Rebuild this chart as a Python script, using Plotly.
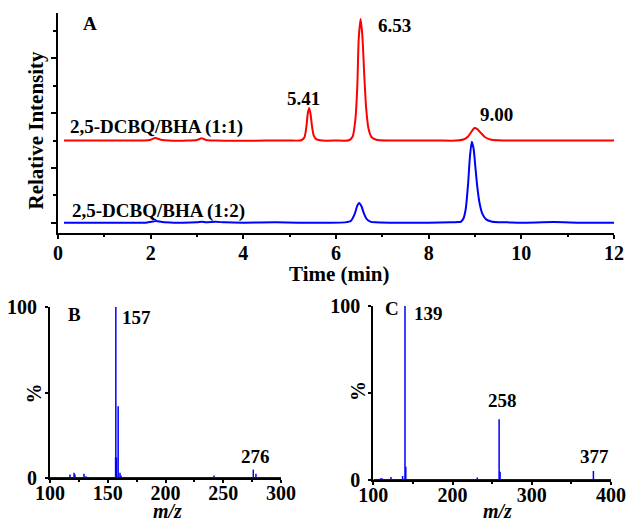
import plotly.graph_objects as go

# ---------------- Panel A: chromatograms ----------------
red_time = [0.13, 0.6, 1.2, 1.8, 1.98, 2.1, 2.22, 2.4, 2.8, 3.0, 3.1, 3.2, 3.4, 3.9, 4.5, 5.0,
            5.25, 5.32, 5.36, 5.39, 5.42, 5.45, 5.48, 5.52, 5.58, 5.7, 6.0, 6.28, 6.36, 6.42,
            6.46, 6.49, 6.53, 6.57, 6.61, 6.65, 6.7, 6.77, 6.87, 7.1, 7.6, 8.2, 8.6, 8.75,
            8.85, 8.93, 8.99, 9.05, 9.13, 9.22, 9.33, 9.5, 9.8, 10.5, 11.2, 12.0]
red_int = [0.0, 0.0, 0.0, 0.0, 0.02, 0.09, 0.03, 0.0, 0.0, 0.02, 0.08, 0.02, 0.0, -0.01, 0.0, 0.0,
           0.01, 0.12, 0.5, 0.98, 1.19, 0.98, 0.55, 0.18, 0.04, 0.0, 0.0, 0.01, 0.15, 0.8,
           2.0, 3.7, 4.44, 3.8, 2.4, 1.2, 0.45, 0.12, 0.03, 0.0, 0.0, 0.0, 0.0, 0.04,
           0.15, 0.34, 0.46, 0.42, 0.27, 0.12, 0.04, 0.01, 0.0, 0.0, 0.0, 0.0]
red_offset = 3.0

blue_time = [0.13, 1.0, 1.9, 2.05, 2.12, 2.25, 2.5, 3.0, 3.1, 3.2, 3.4, 3.6, 4.0, 4.7, 5.2, 5.8,
             6.2, 6.32, 6.4, 6.46, 6.5, 6.55, 6.6, 6.66, 6.74, 6.85, 7.2, 8.0, 8.5, 8.65, 8.7,
             8.75, 8.8, 8.85, 8.89, 8.93, 8.97, 9.01, 9.05, 9.1, 9.16, 9.24, 9.35, 9.5, 9.7,
             10.0, 10.7, 11.3, 12.0]
blue_int = [0.0, 0.0, 0.0, 0.04, 0.06, 0.02, 0.0, 0.01, 0.03, 0.01, 0.03, 0.01, 0.0, 0.01, 0.0, 0.0,
            0.01, 0.06, 0.3, 0.62, 0.72, 0.6, 0.35, 0.14, 0.04, 0.01, 0.0, 0.0, 0.01, 0.02, 0.04,
            0.15, 0.5, 1.4, 2.4, 2.96, 2.7, 2.0, 1.3, 0.7, 0.32, 0.12, 0.04, 0.015, 0.01,
            0.0, 0.02, 0.0, 0.0]

red_label = "2,5-DCBQ/BHA (1:1)"
blue_label = "2,5-DCBQ/BHA (1:2)"
peak_labels_A = ["5.41", "6.53", "9.00"]

# ---------------- Panel B: mass spectrum ----------------
mz_B = [117.3, 120.8, 121.6, 129.4, 131.2, 134.0, 139.0, 156.8, 157.0, 157.6, 159.0, 160.6,
        161.5, 242.0, 276.0, 278.3]
int_B = [2.0, 3.0, 2.0, 2.5, 1.0, 0.5, 0.3, 12.0, 100.0, 12.0, 42.0, 3.0,
         1.5, 1.4, 4.9, 2.5]
labels_B = ["157", "276"]

# ---------------- Panel C: mass spectrum ----------------
mz_C = [109.3, 111.0, 122.3, 128.6, 137.0, 140.0, 141.0, 173.6, 231.2, 258.8, 260.0, 274.6, 377.8]
int_C = [1.0, 1.0, 1.7, 0.5, 2.3, 100.0, 7.6, 0.5, 1.5, 34.8, 4.8, 0.5, 5.2]
labels_C = ["139", "258", "377"]

FONT = "Liberation Serif, Times New Roman, serif"
W, H = 629, 521


def px(x):
    return x / W


def py(y):
    return 1 - y / H


def sticks(mz, inten):
    xs, ys = [], []
    for m, v in zip(mz, inten):
        xs += [m, m, None]
        ys += [0, v, None]
    return xs, ys


fig = go.Figure()

fig.add_trace(go.Scatter(x=red_time, y=[v + red_offset for v in red_int], mode="lines",
                         line=dict(color="#ff0000", width=2, shape="spline", smoothing=0.6),
                         xaxis="x", yaxis="y", showlegend=False, name=red_label))
fig.add_trace(go.Scatter(x=blue_time, y=blue_int, mode="lines",
                         line=dict(color="#0000ff", width=2, shape="spline", smoothing=0.6),
                         xaxis="x", yaxis="y", showlegend=False, name=blue_label))

bx, by = sticks(mz_B, int_B)
fig.add_trace(go.Scatter(x=[100, 300], y=[0, 0], mode="lines", line=dict(color="#0000ff", width=2),
                         xaxis="x2", yaxis="y2", showlegend=False, cliponaxis=False))
fig.add_trace(go.Scatter(x=bx, y=by, mode="lines", line=dict(color="#0000ff", width=1.5),
                         xaxis="x2", yaxis="y2", showlegend=False, cliponaxis=False))

cx, cy = sticks(mz_C, int_C)
fig.add_trace(go.Scatter(x=[100, 400], y=[0, 0], mode="lines", line=dict(color="#0000ff", width=2),
                         xaxis="x3", yaxis="y3", showlegend=False, cliponaxis=False))
fig.add_trace(go.Scatter(x=cx, y=cy, mode="lines", line=dict(color="#0000ff", width=1.5),
                         xaxis="x3", yaxis="y3", showlegend=False, cliponaxis=False))

TICKFONT = dict(family=FONT, size=20, color="black", weight="bold")
axis_common = dict(showline=True, linecolor="black", linewidth=2, showgrid=False, zeroline=False,
                   ticks="outside", tickcolor="black", tickwidth=2, automargin=False,
                   tickfont=TICKFONT)

fig.update_layout(
    template="none",
    width=W, height=H, margin=dict(l=0, r=0, t=0, b=0, autoexpand=False),
    paper_bgcolor="white", plot_bgcolor="white", showlegend=False,
    xaxis=dict(domain=[px(58), px(614)], range=[0, 12], tickvals=[0, 2, 4, 6, 8, 10, 12],
               ticklen=4, anchor="y", ticklabelstandoff=-3,
               minor=dict(tickvals=[1, 3, 5, 7, 9, 11], ticklen=2, ticks="outside",
                          tickwidth=2, tickcolor="black"),
               **axis_common),
    yaxis=dict(domain=[py(232.5), py(13.3)], range=[-0.36, 7.65], tickvals=[0, 2, 4, 6],
               showticklabels=False, ticklen=5, anchor="x",
               minor=dict(tickvals=[1, 3, 5, 7], ticklen=3, ticks="outside",
                          tickwidth=2, tickcolor="black"),
               **axis_common),
    xaxis2=dict(domain=[px(50), px(281)], range=[100, 300], tickvals=[100, 150, 200, 250, 300],
                ticklen=3, anchor="y2", layer="below traces", ticklabelstandoff=-7,
                minor=dict(tickvals=[125, 175, 225, 275], ticklen=2, ticks="outside",
                           tickwidth=1.5, tickcolor="black"),
                **axis_common),
    yaxis2=dict(domain=[py(478), py(307)], range=[0, 100], tickvals=[0, 50, 100],
                ticktext=["0", "", "100"], ticklen=3, anchor="x2", ticklabelstandoff=4,
                **axis_common),
    xaxis3=dict(domain=[px(373.3), px(611)], range=[100, 400], tickvals=[100, 200, 300, 400],
                ticklen=3, anchor="y3", layer="below traces", ticklabelstandoff=-7,
                minor=dict(tickvals=[150, 250, 350], ticklen=2, ticks="outside",
                           tickwidth=1.5, tickcolor="black"),
                **axis_common),
    yaxis3=dict(domain=[py(480), py(305.7)], range=[0, 100], tickvals=[0, 50, 100],
                ticktext=["0", "", "100"], ticklen=3, anchor="x3", ticklabelstandoff=4,
                **axis_common),
)


def ann(text, x, y, size=19, angle=0, italic=False):
    fig.add_annotation(text=text, x=px(x), y=py(y), xref="paper", yref="paper",
                       xanchor="center", yanchor="middle", showarrow=False, textangle=angle,
                       borderpad=0,
                       font=dict(family=FONT, size=size, color="black", weight="bold",
                                 style="italic" if italic else "normal"))


# Panel A texts
ann("A", 89.5, 24)
ann(peak_labels_A[1], 394.5, 25.5)
ann(peak_labels_A[0], 303.5, 98.5)
ann(peak_labels_A[2], 496.5, 114.5)
ann(red_label, 156.5, 127)
ann(blue_label, 158.7, 210.5)
ann("Time (min)", 339, 274, size=21)
ann("Relative Intensity", 35.5, 130, size=21, angle=-90)

# Panel B texts
ann("B", 74, 314)
ann(labels_B[0], 136.5, 317)
ann(labels_B[1], 255.5, 456.5)
ann("%", 33.5, 394, size=20, angle=-90)
ann("m/z", 167, 511, size=20, italic=True)

# Panel C texts
ann("C", 391.5, 308)
ann(labels_C[0], 428, 313.5)
ann(labels_C[1], 502, 400)
ann(labels_C[2], 594.5, 456)
ann("%", 358, 391, size=20, angle=-90)
ann("m/z", 497, 511, size=20, italic=True)

fig.write_html("out.html", config={"displayModeBar": False},
               post_script="document.body.style.margin='0';document.body.style.overflow='hidden';")
